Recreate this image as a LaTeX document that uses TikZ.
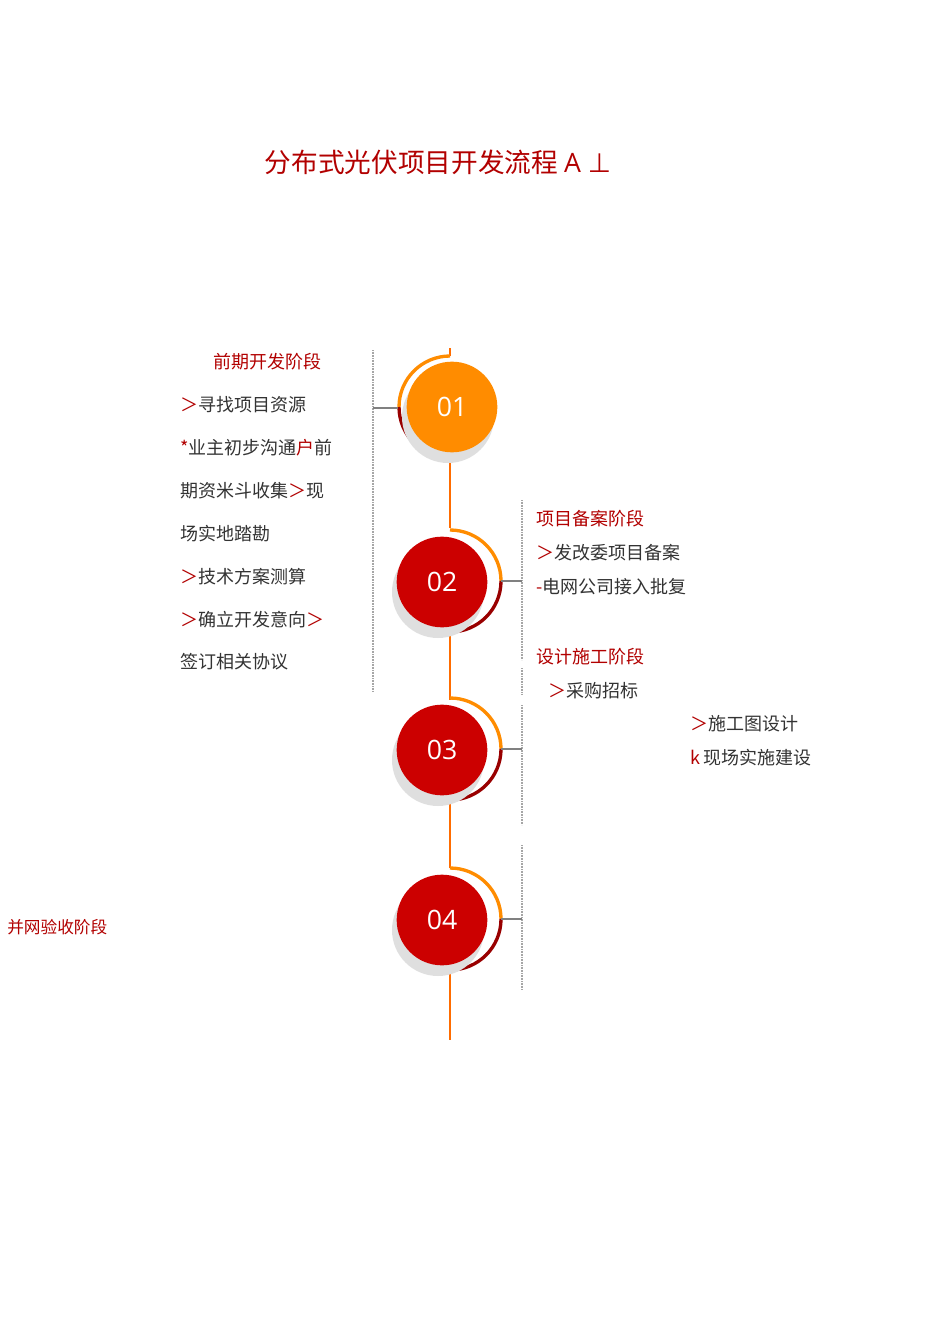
\documentclass[tikz,border=0pt]{standalone}
\usepackage{fontspec}
\setmainfont{Noto Sans CJK SC}
\newfontfamily\cjk{Noto Sans CJK SC}
\newfontfamily\lat{Open Sans}
\newfontfamily\dvs{DejaVu Sans}
\begin{document}
\begin{tikzpicture}[x=0.75pt,y=-0.75pt,
  txt/.style={anchor=west,inner sep=0pt,font=\fontsize{13.5}{13.5}\selectfont,text=black!80},
  red/.style={text=red!70!black},
  ball/.style={circle,minimum size=68pt,inner sep=0pt,text=white,font=\lat\fontsize{20}{20}\selectfont},
  spine/.style={draw=orange!85!red,line width=2pt},
  dots/.style={draw=gray!70,line width=2pt,dash pattern=on 0.6pt off 0.6pt},
  conn/.style={draw=gray,line width=0.8pt}]
\path[use as bounding box] (0,0) rectangle (950,1344);
\fill[white] (0,0) rectangle (950,1344);
\node[red,font=\fontsize{20}{20}\selectfont] (title) at (438,162) {分布式光伏项目开发流程 {\lat A \dvs ⊥}};
% spine
\draw[spine] (450,348) -- (450,356);
\draw[spine] (450,458) -- (450,528);
\draw[spine] (450,632) -- (450,700);
\draw[spine] (450,800) -- (450,868);
\draw[spine] (450,970) -- (450,1040);
% arcs
\draw[draw=orange!90!yellow,line width=2.5pt] (450,356) arc[start angle=-90,end angle=-180,radius=51];
\draw[draw=red!60!black,line width=2.5pt] (399,407) arc[start angle=180,end angle=90,radius=51];
\foreach \y/\a in {582/530,750/698,920/868}{
  \draw[draw=orange!90!yellow,line width=2.5pt] (450,\a) arc[start angle=-90,end angle=0,radius=51];
  \draw[draw=red!60!black,line width=2.5pt] (501,\a+51) arc[start angle=0,end angle=90,radius=51];
}
% balls
\foreach \n/\x/\y/\c in {01/452/407/{orange!90!yellow},02/442/582/{red!80!black},03/442/750/{red!80!black},04/442/920/{red!80!black}}{
  \fill[gray!25] (\x-4,\y+10) circle[radius=46];
  \node[ball,fill=\c] (b\n) at (\x,\y) {\n};
}
% dotted lines
\draw[dots] (373,350) -- (373,692);
\draw[dots] (522,500) -- (522,660);
\draw[dots] (522,668) -- (522,695);
\draw[dots] (522,705) -- (522,825);
\draw[dots] (522,845) -- (522,990);
\coordinate (c1) at (373,408); \coordinate (c2) at (522,581);
\coordinate (c3) at (522,749); \coordinate (c4) at (522,919);
\coordinate (a1) at (398,408); \coordinate (a2) at (501,581);
\coordinate (a3) at (501,749); \coordinate (a4) at (501,919);
\draw[conn] (c1) -- (a1);
\draw[conn] (a2) -- (c2);
\draw[conn] (a3) -- (c3);
\draw[conn] (a4) -- (c4);
% left text
\node[txt,red] (s1) at (213,362) {前期开发阶段};
\node[txt] (l1) at (180,405) {{\color{red!70!black}＞}寻找项目资源};
\node[txt] (l2) at (180,448) {{\color{red!70!black}*}业主初步沟通{\color{red!70!black}户}前};
\node[txt] (l3) at (180,491) {期资米斗收集{\color{red!70!black}＞}现};
\node[txt] (l4) at (180,534) {场实地踏勘};
\node[txt] (l5) at (180,577) {{\color{red!70!black}＞}技术方案测算};
\node[txt] (l6) at (180,620) {{\color{red!70!black}＞}确立开发意向{\color{red!70!black}＞}};
\node[txt] (l7) at (180,662) {签订相关协议};
% right text
\node[txt,red] (s2) at (536,519) {项目备案阶段};
\node[txt] (r1) at (536,553) {{\color{red!70!black}＞}发改委项目备案};
\node[txt] (r2) at (536,587) {{\color{red!70!black}-}电网公司接入批复};
\node[txt,red] (s3) at (536,657) {设计施工阶段};
\node[txt] (r3) at (548,691) {{\color{red!70!black}＞}采购招标};
\node[txt] (r4) at (690,724) {{\color{red!70!black}＞}施工图设计};
\node[txt] (r5) at (690,758) {{\color{red!70!black}k}\,现场实施建设};
\node[txt,red,font=\fontsize{12.5}{12.5}\selectfont] (s4) at (7,927) {并网验收阶段};
\end{tikzpicture}
\end{document}
